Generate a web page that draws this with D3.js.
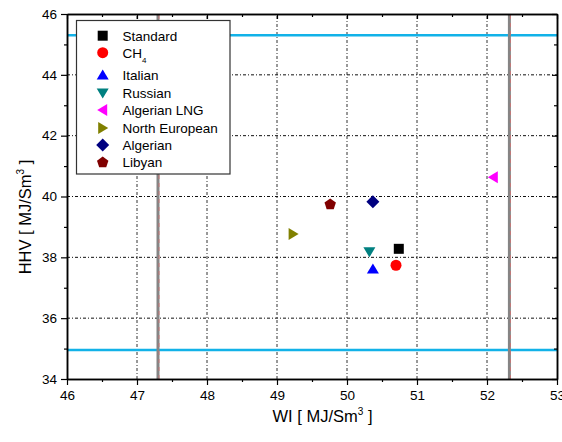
<!DOCTYPE html>
<html><head><meta charset="utf-8">
<script src="https://cdn.jsdelivr.net/npm/d3@7"></script>
<style>body{margin:0;background:#fff}svg{display:block}text{font-family:"Liberation Sans",Arial,sans-serif}</style>
</head><body>
<svg id="c" width="562" height="442"></svg>
<script>
const series = ["Standard","CH4","Italian","Russian","Algerian LNG","North European","Algerian","Libyan"];
const wiValues = [50.74, 50.70, 50.37, 50.32, 52.09, 49.23, 50.37, 49.76];
const hhvValues = [38.28, 37.74, 37.62, 38.18, 40.63, 38.77, 39.83, 39.74];
const symbols = ["square","circle","triUp","triDown","triLeft","triRight","diamond","pentagon"];
const colors = ["#000000","#ff0000","#0000ff","#008080","#ff00ff","#808000","#000080","#800000"];
const xTicks = [46,47,48,49,50,51,52,53];
const yTicks = [34,36,38,40,42,44,46];
const hhvLimits = [34.95, 45.3];
const wiLimits = [47.3, 52.32];

const svg = d3.select("#c");
const x = d3.scaleLinear().domain([46,53]).range([67,557]);
const y = d3.scaleLinear().domain([34,46]).range([379,14]);

// grid
const g = svg.append("g");
g.selectAll(".vg").data(xTicks.slice(1,-1)).enter().append("line")
  .attr("x1",d=>x(d)).attr("x2",d=>x(d)).attr("y1",y(34)).attr("y2",y(46))
  .attr("stroke","#333").attr("stroke-width",1).attr("stroke-dasharray","3,2,1,2");
g.selectAll(".hg").data(yTicks.slice(1,-1)).enter().append("line")
  .attr("y1",d=>y(d)).attr("y2",d=>y(d)).attr("x1",x(46)).attr("x2",x(53))
  .attr("stroke","#111").attr("stroke-width",1).attr("stroke-dasharray","3,2,1,2");

// limit lines
g.selectAll(".hl").data(hhvLimits).enter().append("line")
  .attr("y1",d=>y(d)).attr("y2",d=>y(d)).attr("x1",x(46)).attr("x2",x(53))
  .attr("stroke","#12b2e8").attr("stroke-width",2.5);
g.selectAll(".vl").data(wiLimits).enter().append("line")
  .attr("x1",d=>x(d)).attr("x2",d=>x(d)).attr("y1",y(34)).attr("y2",y(46))
  .attr("stroke","#858585").attr("stroke-width",3);
g.selectAll(".vr").data(wiLimits).enter().append("line")
  .attr("x1",d=>x(d)+1).attr("x2",d=>x(d)+1).attr("y1",y(34)).attr("y2",y(46))
  .attr("stroke","#d07070").attr("stroke-width",0.8).attr("stroke-dasharray","4,4");

// symbol paths
function symPath(t, s){
  const p = d3.path();
  if(t==="square"){ p.rect(-s/2,-s/2,s,s); }
  else if(t==="circle"){ p.arc(0,0,s/2+0.5,0,2*Math.PI); }
  else if(t==="triUp"){ const h=s*0.9; p.moveTo(0,-h/2-1); p.lineTo(s/2+1,h/2); p.lineTo(-s/2-1,h/2); p.closePath(); }
  else if(t==="triDown"){ const h=s*0.9; p.moveTo(0,h/2+1); p.lineTo(s/2+1,-h/2); p.lineTo(-s/2-1,-h/2); p.closePath(); }
  else if(t==="triLeft"){ const h=s*0.9; p.moveTo(-h/2-1,0); p.lineTo(h/2,-s/2-1); p.lineTo(h/2,s/2+1); p.closePath(); }
  else if(t==="triRight"){ const h=s*0.9; p.moveTo(h/2+1,0); p.lineTo(-h/2,-s/2-1); p.lineTo(-h/2,s/2+1); p.closePath(); }
  else if(t==="diamond"){ const r=s/2+1.5; p.moveTo(0,-r); p.lineTo(r,0); p.lineTo(0,r); p.lineTo(-r,0); p.closePath(); }
  else if(t==="pentagon"){ const r=s/2+1; for(let i=0;i<5;i++){ const a=-Math.PI/2+i*2*Math.PI/5; const px=r*Math.cos(a), py=r*Math.sin(a); i?p.lineTo(px,py):p.moveTo(px,py);} p.closePath(); }
  return p.toString();
}

// axes
const ax = svg.append("g");
const minorX = d3.range(46.5,53,1);
const minorY = d3.range(35,46,2);
function styleAxis(sel){ sel.select(".domain").attr("stroke","#000").attr("stroke-width",1.5);
  sel.selectAll(".tick line").attr("stroke","#000").attr("stroke-width",1.2);
  sel.selectAll("text").attr("font-size",13.5).attr("fill","#000").style("font-family","Liberation Sans, Arial, sans-serif"); }
ax.append("g").attr("transform",`translate(0,${y(34)})`)
  .call(d3.axisBottom(x).tickValues(xTicks).tickFormat(d3.format("d")).tickSizeInner(6).tickSizeOuter(0).tickPadding(5)).call(styleAxis);
ax.append("g").attr("transform",`translate(0,${y(34)})`)
  .call(d3.axisBottom(x).tickValues(minorX).tickFormat("").tickSizeInner(3).tickSizeOuter(0)).call(styleAxis);
ax.append("g").attr("transform",`translate(${x(46)},0)`)
  .call(d3.axisLeft(y).tickValues(yTicks).tickFormat(d3.format("d")).tickSizeInner(6).tickSizeOuter(0).tickPadding(4)).call(styleAxis);
ax.append("g").attr("transform",`translate(${x(46)},0)`)
  .call(d3.axisLeft(y).tickValues(minorY).tickFormat("").tickSizeInner(3).tickSizeOuter(0)).call(styleAxis);
ax.append("g").attr("transform",`translate(0,${y(46)})`)
  .call(d3.axisTop(x).tickValues(xTicks).tickFormat("").tickSizeInner(-5).tickSizeOuter(0)).call(styleAxis);
ax.append("g").attr("transform",`translate(0,${y(46)})`)
  .call(d3.axisTop(x).tickValues(minorX).tickFormat("").tickSizeInner(-3).tickSizeOuter(0)).call(styleAxis);
ax.append("g").attr("transform",`translate(${x(53)},0)`)
  .call(d3.axisRight(y).tickValues(yTicks).tickFormat("").tickSizeInner(-5).tickSizeOuter(0)).call(styleAxis);
ax.append("g").attr("transform",`translate(${x(53)},0)`)
  .call(d3.axisRight(y).tickValues(minorY).tickFormat("").tickSizeInner(-3).tickSizeOuter(0)).call(styleAxis);

// points
svg.append("g").selectAll("path").data(series).enter().append("path")
  .attr("d",(d,i)=>symPath(symbols[i],10))
  .attr("transform",(d,i)=>`translate(${x(wiValues[i])},${y(hhvValues[i])})`)
  .attr("fill",(d,i)=>colors[i]);

// legend
const lg = svg.append("g");
lg.append("rect").attr("x",76.5).attr("y",20.5).attr("width",153.5).attr("height",153.5)
  .attr("fill","#fff").attr("stroke","#333").attr("stroke-width",1.2);
const rowY = [35.7, 52.7, 75, 93, 110, 128, 145, 162.5];
series.forEach((s,i)=>{
  lg.append("path").attr("d",symPath(symbols[i],10)).attr("transform",`translate(102.7,${rowY[i]})`).attr("fill",colors[i]);
  const t = lg.append("text").attr("x",122.5).attr("y",rowY[i]+4.8).attr("font-size",13.5).attr("fill","#000");
  if(s==="CH4"){ t.append("tspan").text("CH"); t.append("tspan").attr("font-size",8).attr("dy",5).text("4"); }
  else t.text(s);
});

// axis titles
const xt = svg.append("text").attr("x",x(49.65)).attr("y",422).attr("text-anchor","middle").attr("font-size",16.5).attr("fill","#000");
xt.append("tspan").text("WI [ MJ/Sm");
xt.append("tspan").attr("font-size",10).attr("dy",-7).text("3");
xt.append("tspan").attr("dy",7).text(" ]");
const yt = svg.append("text").attr("transform","translate(31,217) rotate(-90)").attr("text-anchor","middle").attr("font-size",16.5).attr("fill","#000");
yt.append("tspan").text("HHV [ MJ/Sm");
yt.append("tspan").attr("font-size",10).attr("dy",-7).text("3");
yt.append("tspan").attr("dy",7).text(" ]");
</script>
</body></html>
